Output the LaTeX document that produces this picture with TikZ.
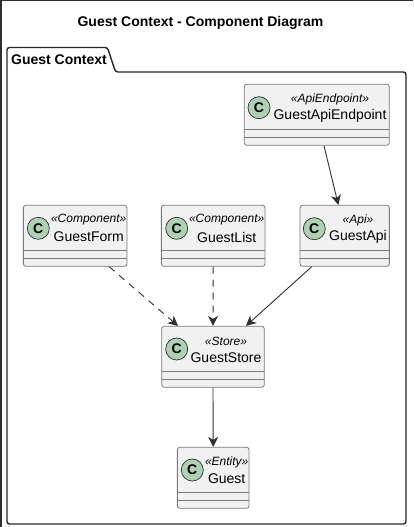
\documentclass[tikz,border=0pt]{standalone}
\usepackage{fontspec}
\setmainfont{Liberation Sans}
\usetikzlibrary{arrows.meta}
\definecolor{boxfill}{HTML}{F1F1F1}
\definecolor{boxline}{HTML}{7A7A7A}
\definecolor{spotfill}{HTML}{ADD1B2}
\definecolor{inkline}{HTML}{303030}
\tikzset{
  classbox/.style={draw=boxline, fill=boxfill, line width=0.8pt, rounded corners=2.5pt,
    minimum height=61pt, inner sep=0pt, path picture={
      \draw[boxline, line width=0.8pt] ([yshift=8pt]path picture bounding box.south west) -- ([yshift=8pt]path picture bounding box.south east);
      \draw[boxline, line width=0.8pt] ([yshift=16pt]path picture bounding box.south west) -- ([yshift=16pt]path picture bounding box.south east);
    }},
  spot/.style={circle, draw=inkline, fill=spotfill, line width=0.7pt, minimum size=22pt, inner sep=0pt, font=\fontsize{14}{14}\selectfont\bfseries},
  stereo/.style={inner sep=0pt, font=\fontsize{12}{12}\selectfont\itshape},
  title/.style={inner sep=0pt, font=\fontsize{14}{14}\selectfont},
  link/.style={inkline, line width=0.9pt},
  >={Stealth[inset=3pt, length=10pt, width=10pt]}
}
\begin{document}
\begin{tikzpicture}[x=1pt, y=-1pt]
\useasboundingbox (0,0) rectangle (413,527);
% Image edge
\fill[inkline] (0,0) rectangle (413,1.5);
\fill[inkline] (0,0) rectangle (1.5,527);

% Package
\draw[black!85, line width=1.4pt, rounded corners=2.5pt] (7,72) -- (7,47.5) -- (107.5,47.5) -- (115.5,72) -- (406,72) -- (406,524) -- (7,524) -- cycle;
\node[inner sep=0pt, font=\fontsize{14}{14}\selectfont\bfseries] (packageName) at (59,60) {Guest Context};
\node[inner sep=0pt, font=\fontsize{14}{14}\selectfont\bfseries] (diagramTitle) at (200.5,22.5) {Guest Context - Component Diagram};

% Nodes
\node[classbox, minimum width=145pt] (guestApiEndpoint) at (316.8,114.8) {};
\node[spot] (spotEndpoint) at (259,107.7) {C};
\node[stereo] (stereoEndpoint) at (330,99) {«ApiEndpoint»};
\node[title] (titleEndpoint) at (330,116) {GuestApiEndpoint};

\node[classbox, minimum width=103.7pt] (guestForm) at (75.2,235.8) {};
\node[spot] (spotForm) at (38.3,228.3) {C};
\node[stereo] (stereoForm) at (88.7,220) {«Component»};
\node[title] (titleForm) at (88.7,237) {GuestForm};

\node[classbox, minimum width=103.7pt] (guestList) at (213.2,235.8) {};
\node[spot] (spotList) at (176.7,228.3) {C};
\node[stereo] (stereoList) at (226.7,220) {«Component»};
\node[title] (titleList) at (226.7,237) {GuestList};

\node[classbox, minimum width=89.3pt] (guestApi) at (344.7,235.8) {};
\node[spot] (spotApi) at (314.3,228.7) {C};
\node[stereo] (stereoApi) at (358,220) {«Api»};
\node[title] (titleApi) at (358,237) {GuestApi};

\node[classbox, minimum width=102.6pt] (guestStore) at (213,356.8) {};
\node[spot] (spotStore) at (176.7,349) {C};
\node[stereo] (stereoStore) at (226,341) {«Store»};
\node[title] (titleStore) at (226,358) {GuestStore};

\node[classbox, minimum width=71.7pt] (guest) at (213.2,477.8) {};
\node[spot] (spotGuest) at (192.3,470) {C};
\node[stereo] (stereoGuest) at (226.7,462) {«Entity»};
\node[title] (titleGuest) at (226.7,479) {Guest};

% Arrows
\draw[->, link] ([xshift=7.2pt]guestApiEndpoint.south) -- ([xshift=-6.4pt]guestApi.north);
\draw[->, link, dash pattern=on 7pt off 6pt] ([xshift=34pt]guestForm.south) -- ([xshift=-35pt]guestStore.north);
\draw[->, link, dash pattern=on 7pt off 6pt] (guestList.south) -- (guestStore.north);
\draw[->, link] ([xshift=-33pt]guestApi.south) -- ([xshift=33pt]guestStore.north);
\draw[->, link] (guestStore.south) -- (guest.north);
\end{tikzpicture}
\end{document}
